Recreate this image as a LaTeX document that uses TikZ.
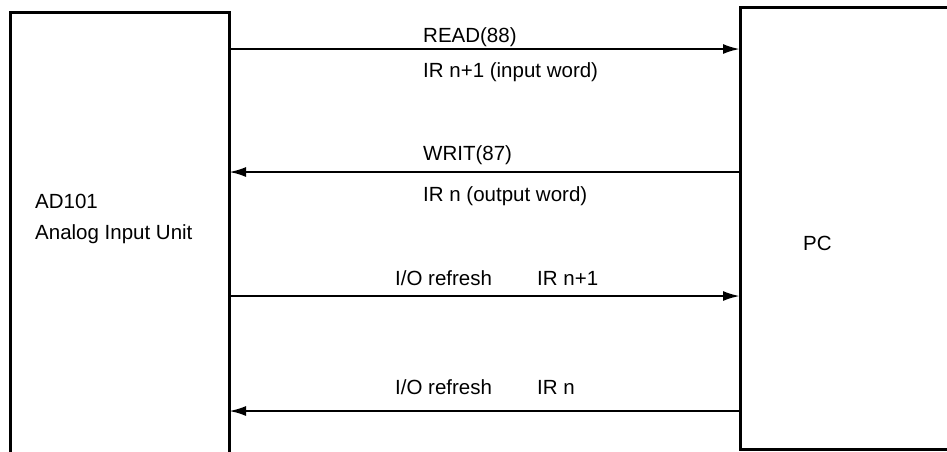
\documentclass[tikz,border=0pt]{standalone}
\usepackage{fontspec}
\setmainfont{Liberation Sans}
\usetikzlibrary{arrows.meta}
\begin{document}
\begin{tikzpicture}[x=1pt,y=-1pt,
  boxline/.style={line width=3pt,line cap=rect},
  flow/.style={line width=2.4pt,-{Latex[length=17pt,width=10pt]}},
  lbl/.style={anchor=base west,inner sep=0pt,font=\fontsize{20.5}{24}\selectfont}]
\useasboundingbox (0,0) rectangle (947,451);
% left unit (open at bottom)
\draw[boxline] (10,451) -- (10,12) -- (229,12) -- (229,451);
% right unit (open at right)
\draw[boxline] (947,7.5) -- (740,7.5) -- (740,449) -- (947,449);
\node[lbl] (ad1) at (35,208) {AD101};
\node[lbl] (ad2) at (35,239) {Analog Input Unit};
\node[lbl] (pc) at (803,250) {PC};
% connector end points on the unit edges
\coordinate (L1) at (229,49);   \coordinate (R1) at (740,49);
\coordinate (L2) at (229,172);  \coordinate (R2) at (740,172);
\coordinate (L3) at (229,296);  \coordinate (R3) at (740,296);
\coordinate (L4) at (229,411);  \coordinate (R4) at (740,411);
\draw[flow] (L1) -- (R1);
\draw[flow] (R2) -- (L2);
\draw[flow] (L3) -- (R3);
\draw[flow] (R4) -- (L4);
\node[lbl] (t1a) at (423,42) {READ(88)};
\node[lbl] (t1b) at (423,77) {IR n+1 (input word)};
\node[lbl] (t2a) at (423,160) {WRIT(87)};
\node[lbl] (t2b) at (423,201) {IR n (output word)};
\node[lbl] (t3a) at (395,285) {I/O refresh};
\node[lbl] (t3b) at (537,285) {IR n+1};
\node[lbl] (t4a) at (395,394) {I/O refresh};
\node[lbl] (t4b) at (537,394) {IR n};
\end{tikzpicture}
\end{document}
